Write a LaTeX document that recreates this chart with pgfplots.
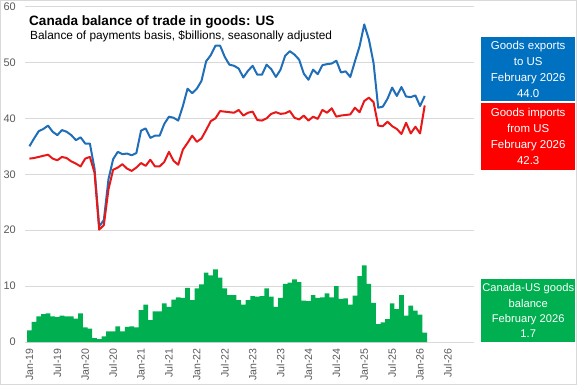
\documentclass[border=0pt]{standalone}
\usepackage{fontspec}
\setmainfont{Liberation Sans}
\usepackage{pgfplots}
\pgfplotsset{compat=1.18}
\usepackage{pgfplotstable}
\definecolor{expblue}{HTML}{1F6EB7}
\definecolor{impred}{HTML}{E81818}
\definecolor{balgreen}{HTML}{00B050}
\definecolor{boxblue}{HTML}{0070C0}
\definecolor{boxred}{HTML}{FF0000}
\definecolor{gridgray}{HTML}{D9D9D9}
\definecolor{ticklab}{HTML}{595959}
\pgfplotstableread{
m exp imp bal
0 35.0 32.8 2.1
1 36.4 32.9 3.6
2 37.7 33.1 4.6
3 38.1 33.3 5.0
4 38.7 33.5 5.1
5 37.6 32.8 4.6
6 37.0 32.5 4.5
7 37.9 33.1 4.7
8 37.6 32.9 4.6
9 37.0 32.3 4.6
10 36.1 31.9 4.2
11 36.6 31.4 5.1
12 35.5 32.8 2.6
13 35.5 33.1 2.4
14 31.0 30.3 0.7
15 20.7 20.1 0.5
16 21.8 20.9 1.0
17 29.1 27.3 1.9
18 32.7 30.8 1.9
19 34.0 31.2 2.8
20 33.6 31.8 1.9
21 33.7 31.0 2.7
22 33.4 30.6 2.8
23 33.8 31.2 2.6
24 37.8 32.0 5.7
25 38.2 31.5 6.7
26 36.5 32.6 3.9
27 36.9 31.4 5.5
28 36.9 31.4 5.5
29 39.0 32.2 6.9
30 40.3 34.0 6.3
31 40.1 32.4 7.6
32 39.6 31.7 8.0
33 42.2 34.4 7.9
34 45.3 35.6 9.7
35 44.5 36.9 7.5
36 45.3 35.8 9.6
37 46.7 36.4 10.3
38 50.2 37.9 12.4
39 51.3 39.5 11.9
40 53.0 40.0 13.0
41 53.0 41.3 11.5
42 51.0 41.2 9.6
43 49.6 41.1 8.4
44 49.4 41.0 8.4
45 48.9 41.5 7.5
46 47.3 40.5 6.7
47 48.5 41.0 7.5
48 49.4 41.2 8.2
49 47.8 39.7 8.1
50 47.8 39.6 8.2
51 49.6 40.0 9.6
52 48.8 40.8 8.1
53 47.4 41.1 6.3
54 48.7 40.8 7.9
55 51.2 40.9 10.4
56 52.0 41.3 10.6
57 51.4 40.1 11.2
58 50.5 39.8 10.7
59 48.0 40.5 7.4
60 46.9 39.6 7.3
61 48.7 40.3 8.4
62 47.9 39.9 7.9
63 49.5 41.5 8.0
64 49.7 41.0 8.7
65 49.8 41.8 8.0
66 50.3 40.3 10.0
67 48.2 40.5 7.7
68 48.4 40.6 7.8
69 47.4 40.7 6.7
70 50.2 41.9 8.3
71 52.9 41.1 11.8
72 56.8 43.1 13.7
73 54.1 43.7 10.4
74 49.9 42.9 7.0
75 41.9 38.7 3.2
76 42.1 38.6 3.5
77 43.5 39.4 4.1
78 45.5 38.6 6.9
79 44.0 38.1 5.9
80 45.6 37.2 8.4
81 43.9 39.2 4.7
82 43.8 37.3 6.5
83 44.1 38.5 5.6
84 42.2 37.3 4.9
85 44.0 42.3 1.7
}\data

\begin{document}
\begin{tikzpicture}[x=1bp,y=1bp]
\draw[draw=gridgray, line width=1bp] (0.5,0.5) rectangle (576.5,384.5);
\begin{axis}[
  at={(25bp,43bp)}, anchor=south west,
  scale only axis, width=449bp, height=335.5bp,
  xmin=-0.95, xmax=95.6, ymin=0, ymax=60,
  ytick={0,10,...,60},
  ymajorgrids,
  grid style={draw=gridgray, line width=0.75bp},
  axis line style={draw=none},
  major tick length=0pt,
  xtick={0,6,...,90},
  xticklabels={Jan-19,Jul-19,Jan-20,Jul-20,Jan-21,Jul-21,Jan-22,Jul-22,Jan-23,Jul-23,Jan-24,Jul-24,Jan-25,Jul-25,Jan-26,Jul-26},
  /pgf/number format/assume math mode=true,
  ticklabel style={text=ticklab, inner sep=0pt},
  xticklabel style={rotate=90, anchor=east, font=\fontsize{10.6}{12}\selectfont},
  yticklabel style={anchor=east, font=\fontsize{11}{13}\selectfont},
  xticklabel shift=6.5bp,
  yticklabel shift=9bp,
  clip=false,
]
\addplot[ybar, bar width=1, bar shift=0pt, fill=balgreen, draw=none] table[x=m,y=bal]{\data};
\addplot[expblue, line width=2bp, no markers, line join=round] table[x=m,y=exp]{\data};
\addplot[impred, line width=2bp, no markers, line join=round] table[x=m,y=imp]{\data};
\end{axis}
\node[anchor=base west, inner sep=0pt, font=\bfseries\fontsize{13.6}{16}\selectfont] at (29,360) {Canada balance of trade in goods: US};
\node[anchor=base west, inner sep=0pt, font=\fontsize{11.9}{14}\selectfont] at (30,345.5) {Balance of payments basis, \$billions, seasonally adjusted};
\node[fill=boxblue, text=white, minimum width=94bp, minimum height=64bp, anchor=north west, align=center, inner sep=0pt, font=\fontsize{11.5}{16}\selectfont] at (481,348) {Goods exports\\to US\\February 2026\\44.0};
\node[fill=boxred, text=white, minimum width=94bp, minimum height=67bp, anchor=north west, align=center, inner sep=0pt, font=\fontsize{11.5}{16}\selectfont] at (481,282) {Goods imports\\from US\\February 2026\\42.3};
\node[fill=balgreen, text=white, minimum width=94bp, minimum height=63bp, anchor=north west, align=center, inner sep=0pt, font=\fontsize{11.2}{15.5}\selectfont] at (481,106) {Canada-US goods\\balance\\February 2026\\1.7};
\end{tikzpicture}
\end{document}
